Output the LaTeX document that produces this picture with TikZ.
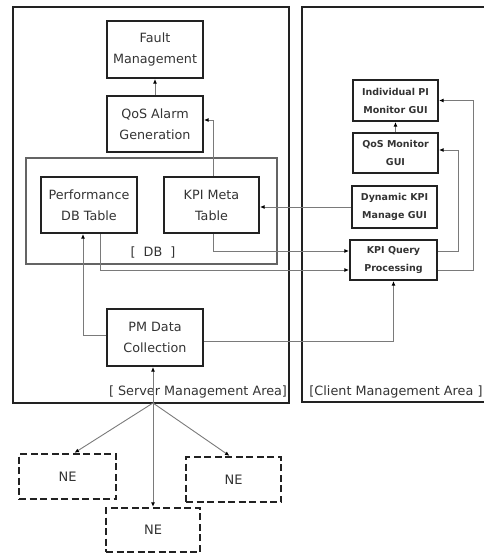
\documentclass[tikz,border=0pt]{standalone}
\usepackage{fontspec}
\setmainfont{DejaVu Sans}
\usetikzlibrary{arrows.meta}
\definecolor{ink}{HTML}{222222}
\definecolor{wire}{HTML}{7A7A7A}
\definecolor{txt}{HTML}{333333}
\begin{document}
\begin{tikzpicture}[x=1pt,y=-1pt,
  sbox/.style={draw=ink,line width=2.2pt,text=txt,align=center,inner sep=0pt,
    font={\fontsize{12.75}{21}\selectfont}},
  cbox/.style={draw=ink,line width=2.2pt,text=txt,align=center,inner sep=0pt,
    font={\fontsize{9.5}{18}\selectfont\bfseries}},
  nebox/.style={draw=ink,line width=2.4pt,dash pattern=on 7pt off 3.5pt,text=txt,
    inner sep=0pt,font={\fontsize{13}{16}\selectfont}},
  area/.style={draw=ink,line width=1.8pt},
  dbarea/.style={draw=ink!70,line width=1.8pt},
  wire/.style={draw=wire,line width=0.9pt},
  arr/.style={wire,-{Latex[length=4.5pt,width=4pt,black]}},
  lbl/.style={text=txt,inner sep=0pt,font={\fontsize{12.8}{15}\selectfont}}
]
\useasboundingbox (0,0) rectangle (483,554);
% areas
\draw[area] (13,7) rectangle (289,403);
\draw[area] (484,7) -| (302,402) -- (484,402);
\draw[dbarea] (26,158) rectangle (277,264);
% server nodes
\node[sbox,minimum width=96pt,minimum height=57pt] (fault) at (155,49.5) {Fault\\Management};
\node[sbox,minimum width=96pt,minimum height=56pt] (alarm) at (155,124) {QoS Alarm\\Generation};
\node[sbox,minimum width=96pt,minimum height=56pt] (perf) at (89,205) {Performance\\DB Table};
\node[sbox,minimum width=95pt,minimum height=56pt] (meta) at (211.5,205) {KPI Meta\\Table};
\node[sbox,minimum width=96pt,minimum height=57pt] (pm) at (155,337.5) {PM Data\\Collection};
% client nodes
\node[cbox,minimum width=85pt,minimum height=41pt] (indiv) at (395.5,100.5) {Individual PI\\Monitor GUI};
\node[cbox,minimum width=85pt,minimum height=40pt] (qmon) at (395.5,153) {QoS Monitor\\GUI};
\node[cbox,minimum width=85pt,minimum height=42pt] (dyn) at (394.5,207) {Dynamic KPI\\Manage GUI};
\node[cbox,minimum width=87pt,minimum height=40pt] (kq) at (393.5,260) {KPI Query\\Processing};
% NE nodes
\node[nebox,minimum width=97pt,minimum height=45pt] (neL) at (67.5,476.5) {NE};
\node[nebox,minimum width=95pt,minimum height=45pt] (neR) at (233.5,479.5) {NE};
\node[nebox,minimum width=94pt,minimum height=44pt] (neM) at (153,530) {NE};
% labels
\node[lbl] (dblbl) at (153,252) {[ ~DB~ ]};
\node[lbl] (slbl) at (198,392) {[ Server Management Area]};
\node[lbl] (clbl) at (396,392) {[Client Management Area ]};
% connectors
\draw[arr] (alarm.north) -- (fault.south);
\draw[arr] ([xshift=1.5pt]meta.north) |- ([yshift=4pt]alarm.east);
\draw[arr] (qmon.north) -- (indiv.south);
\draw[arr] ([yshift=9pt]kq.east) -- ++(20,0) |- ([yshift=3pt]qmon.east);
\draw[arr] ([yshift=-10pt]kq.east) -- ++(35,0) |- (indiv.east);
\draw[arr] (dyn.west) -- (meta.east |- dyn.west);
\draw[arr] ([xshift=1.5pt]meta.south) |- ([yshift=9pt]kq.west);
\draw[arr] ([xshift=11pt]perf.south) |- ([yshift=-10pt]kq.west);
\draw[arr] ([yshift=2.5pt]pm.west) -| ([xshift=-6pt]perf.south);
\draw[arr] ([yshift=-3.5pt]pm.east) -| (kq.south);
\coordinate (hub) at (153,403);
\draw[arr] (hub) -- (hub |- pm.south);
\draw[arr] (hub) -- ([xshift=7pt]neL.north);
\draw[arr] (hub) -- ([xshift=-4pt]neR.north);
\draw[arr] (hub) -- (neM.north);
\end{tikzpicture}
\end{document}
